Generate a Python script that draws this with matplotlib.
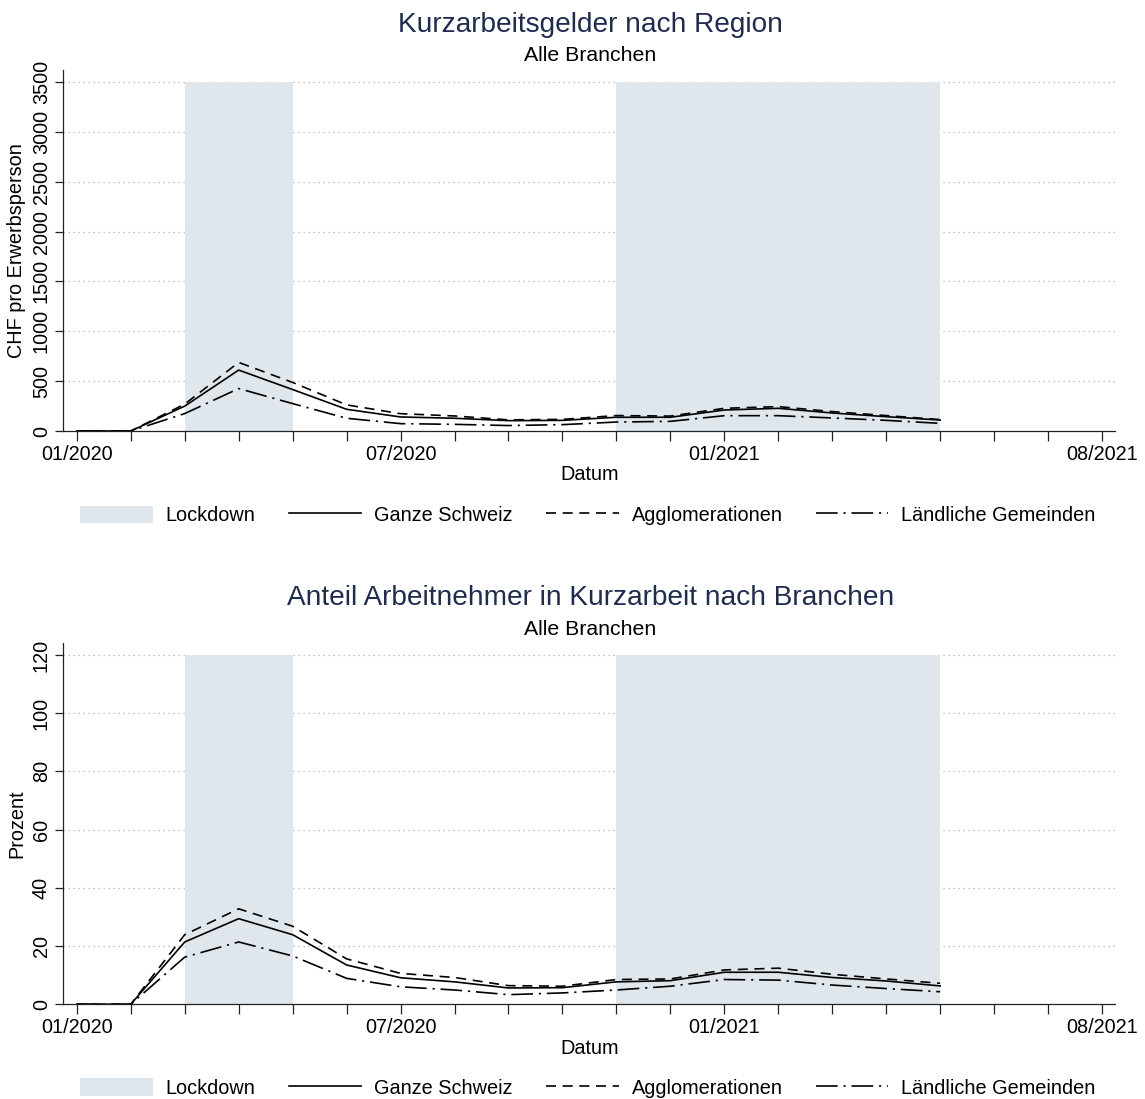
import matplotlib
matplotlib.use("Agg")
import matplotlib.pyplot as plt
from matplotlib.patches import Patch
from matplotlib.lines import Line2D

plt.rcParams['font.family'] = ['Liberation Sans', 'DejaVu Sans']

# Months: 0 = 01/2020 ... 19 = 08/2021
months = list(range(17))  # 01/2020 .. 05/2021
tick_months = list(range(20))
tick_labels = {0: "01/2020", 6: "07/2020", 12: "01/2021", 19: "08/2021"}

lockdowns = [(2, 4), (10, 16)]  # 03/2020-05/2020, 11/2020-05/2021

# Panel 1: CHF pro Erwerbsperson
chf_ganze = [0, 0, 250, 611, 416, 218, 141, 128, 104, 107, 138, 138, 211, 228, 181, 144, 110]
chf_agglo = [0, 0, 270, 688, 487, 262, 174, 151, 112, 117, 155, 150, 228, 245, 195, 155, 115]
chf_land = [0, 0, 175, 426, 275, 128, 74, 67, 55, 64, 90, 97, 154, 154, 131, 107, 77]

# Panel 2: Prozent
pct_ganze = [0, 0, 21.4, 29.4, 23.9, 13.5, 9.1, 7.7, 5.6, 5.7, 7.7, 8.1, 11.0, 11.0, 9.2, 8.0, 6.3]
pct_agglo = [0, 0, 23.9, 32.8, 26.8, 15.6, 10.6, 9.2, 6.4, 6.2, 8.5, 8.7, 11.8, 12.4, 10.3, 8.7, 7.2]
pct_land = [0, 0, 16.2, 21.4, 16.6, 8.9, 6.0, 4.9, 3.3, 3.9, 4.9, 6.2, 8.5, 8.3, 6.6, 5.4, 4.3]

series_names = ["Ganze Schweiz", "Agglomerationen", "Ländliche Gemeinden"]
styles = ["-", (0, (6, 4)), (0, (13, 3.5, 1.3, 3.5))]

shade_color = "#dfe7ed"
title_color = "#1f2c52"
FS = 14.3

fig = plt.figure(figsize=(11.45, 10.99), dpi=100)

def make_panel(rect, s1, s2, s3, yticks, ylim_top, ylabel, title, title_y, sub_y, leg_y):
    ax = fig.add_axes(rect)
    for a, b in lockdowns:
        ax.fill_between([a, b], 0, yticks[-1], color=shade_color, lw=0, zorder=1)
    for yt in yticks[1:]:
        ax.axhline(yt, color="#b0b0b0", lw=0.9, ls=(0, (1, 3)), zorder=0.5)
    for vals, st in zip([s1, s2, s3], styles):
        ax.plot(months, vals, color="black", lw=1.2, ls=st, zorder=3)
    ax.set_xlim(-0.25, 19.24)
    ax.set_ylim(0, ylim_top)
    ax.set_xticks(tick_months)
    ax.set_xticklabels([tick_labels.get(m, "") for m in tick_months], fontsize=FS)
    ax.set_yticks(yticks)
    ax.set_yticklabels([str(v) for v in yticks], fontsize=FS, rotation=90, va="center")
    ax.tick_params(axis="x", length=7, width=0.9, pad=3, colors="#222222")
    ax.tick_params(axis="y", length=6, width=0.9, pad=3, colors="#222222")
    for lbl in ax.get_xticklabels() + ax.get_yticklabels():
        lbl.set_color("black")
    ax.spines["top"].set_visible(False)
    ax.spines["right"].set_visible(False)
    ax.spines["left"].set_color("#222222")
    ax.spines["bottom"].set_color("#222222")
    ax.spines["left"].set_linewidth(0.9)
    ax.spines["bottom"].set_linewidth(0.9)
    ax.set_xlabel("Datum", fontsize=FS, labelpad=1)
    ax.set_ylabel(ylabel, fontsize=FS, labelpad=4)
    fig.text(0.5155, title_y, title, fontsize=20.2, color=title_color, ha="center", va="center")
    fig.text(0.5155, sub_y, "Alle Branchen", fontsize=15.3, color="black", ha="center", va="center")
    handles = [Patch(facecolor=shade_color, edgecolor="none", label="Lockdown")]
    for name, st in zip(series_names, styles):
        handles.append(Line2D([0], [0], color="black", lw=1.2, ls=st, label=name))
    fig.legend(handles=handles, loc="center", bbox_to_anchor=(0.5135, leg_y), ncol=4,
               frameon=False, fontsize=FS, handlelength=3.65, handleheight=1.0,
               handletextpad=0.65, columnspacing=1.68, borderaxespad=0)
    return ax

make_panel([0.0553, 0.6078, 0.9185, 0.3285], chf_ganze, chf_agglo, chf_land,
           [0, 500, 1000, 1500, 2000, 2500, 3000, 3500], 3620,
           "CHF pro Erwerbsperson", "Kurzarbeitsgelder nach Region", 0.9775, 0.9495, 0.5310)

make_panel([0.0553, 0.0862, 0.9185, 0.3287], pct_ganze, pct_agglo, pct_land,
           [0, 20, 40, 60, 80, 100, 120], 124.1,
           "Prozent", "Anteil Arbeitnehmer in Kurzarbeit nach Branchen", 0.4555, 0.4270, 0.0100)

fig.savefig("out.png", dpi=100, facecolor="white")
